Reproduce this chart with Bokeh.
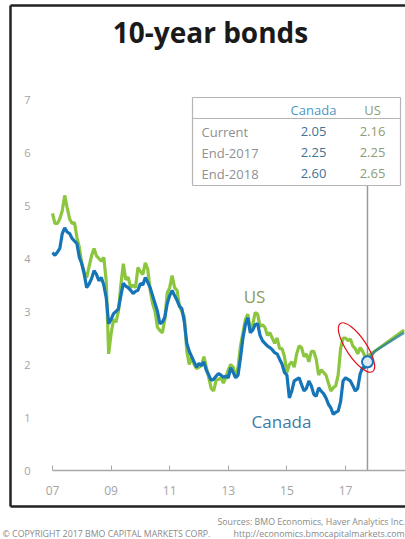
import numpy as np
from bokeh.plotting import figure
from bokeh.models import FixedTicker, Label, Range1d, ColumnDataSource
from bokeh.embed import file_html
from bokeh.resources import INLINE

# ---------------- data ----------------
# monthly readings, Jan 2007 .. Sep 2017, plus current reading
canada = [
    4.11, 4.06, 4.12, 4.19, 4.47, 4.58, 4.50, 4.47, 4.38, 4.33, 4.28, 4.02,   # 2007
    3.90, 3.70, 3.45, 3.52, 3.62, 3.77, 3.70, 3.58, 3.64, 3.50, 3.26, 2.77,   # 2008
    2.85, 2.96, 3.00, 3.05, 3.30, 3.53, 3.48, 3.45, 3.40, 3.34, 3.38, 3.40,   # 2009
    3.53, 3.50, 3.64, 3.55, 3.45, 3.30, 3.15, 3.00, 2.77, 2.80, 2.89, 3.15,   # 2010
    3.30, 3.40, 3.30, 3.21, 3.10, 3.05, 2.80, 2.40, 2.25, 2.15, 2.05, 1.95,   # 2011
    2.02, 1.98, 2.05, 1.89, 1.80, 1.70, 1.72, 1.78, 1.83, 1.80, 1.76, 1.78,   # 2012
    1.75, 1.94, 1.85, 1.75, 1.80, 2.13, 2.50, 2.75, 2.88, 2.60, 2.65, 2.75,   # 2013
    2.77, 2.55, 2.45, 2.40, 2.35, 2.32, 2.28, 2.22, 2.20, 2.10, 2.01, 1.85,   # 2014
    1.80, 1.37, 1.50, 1.69, 1.72, 1.75, 1.62, 1.50, 1.55, 1.69, 1.60, 1.44,   # 2015
    1.40, 1.56, 1.50, 1.45, 1.37, 1.25, 1.18, 1.06, 1.10, 1.12, 1.30, 1.69,   # 2016
    1.75, 1.72, 1.69, 1.60, 1.50, 1.55, 1.82, 1.94, 1.94,                     # 2017
]
us = [
    4.85, 4.66, 4.66, 4.75, 4.90, 5.19, 4.96, 4.75, 4.66, 4.68, 4.40, 4.21,   # 2007
    3.90, 3.75, 3.64, 3.85, 4.05, 4.19, 4.05, 4.00, 3.95, 4.02, 3.58, 2.20,   # 2008
    2.58, 2.85, 2.80, 3.00, 3.50, 3.90, 3.60, 3.65, 3.45, 3.50, 3.45, 3.83,   # 2009
    3.75, 3.70, 3.92, 3.80, 3.40, 3.15, 3.00, 2.70, 2.64, 2.60, 2.85, 3.35,   # 2010
    3.45, 3.68, 3.45, 3.40, 3.10, 3.00, 2.90, 2.25, 2.00, 2.15, 2.00, 1.92,   # 2011
    1.95, 1.98, 2.15, 1.95, 1.75, 1.55, 1.50, 1.70, 1.72, 1.75, 1.65, 1.75,   # 2012
    1.90, 2.00, 1.95, 1.75, 1.95, 2.35, 2.60, 2.85, 2.95, 2.65, 2.75, 2.98,   # 2013
    2.95, 2.72, 2.75, 2.70, 2.55, 2.60, 2.50, 2.40, 2.50, 2.30, 2.30, 2.15,   # 2014
    1.85, 2.00, 2.05, 1.95, 2.20, 2.35, 2.32, 2.15, 2.20, 2.05, 2.25, 2.25,   # 2015
    2.10, 1.80, 1.90, 1.85, 1.80, 1.65, 1.50, 1.56, 1.60, 1.80, 2.30, 2.50,   # 2016
    2.50, 2.45, 2.48, 2.35, 2.30, 2.20, 2.32, 2.25, 2.15,                     # 2017
]
current_date = 2017.75
table_rows = ["Current", "End-2017", "End-2018"]
canada_table = [2.05, 2.25, 2.60]
us_table = [2.16, 2.25, 2.65]
forecast_dates = [2017.75, 2018.0, 2019.0]
year_ticks = [2007, 2009, 2011, 2013, 2015, 2017]
year_labels = ["07", "09", "11", "13", "15", "17"]
y_ticks = [0, 1, 2, 3, 4, 5, 6, 7]

dates = [2007 + i / 12 for i in range(len(canada))] + [current_date]
canada_hist = canada + [canada_table[0]]
us_hist = us + [us_table[0]]

# ---------------- layout constants (pixels) ----------------
W, H = 405, 539
PX_YR, PX_U = 29.3, 53.0
X0_PX, Y0_PX = 52, 470          # pixel of 2007 and of value 0
x_start = 2007 - X0_PX / PX_YR
x_end = 2007 + (W - X0_PX) / PX_YR
y_start = -(H - Y0_PX) / PX_U
y_end = Y0_PX / PX_U

def dx(px):
    return x_start + px / PX_YR

def dy(py):
    return (Y0_PX - py) / PX_U

BLUE = "#1674b8"
GREEN = "#8cc63f"
FONT = "Open Sans"

p = figure(width=W, height=H, output_backend="svg", toolbar_location=None,
           x_range=Range1d(x_start, x_end), y_range=Range1d(y_start, y_end),
           min_border=0, min_border_left=0, min_border_right=0,
           min_border_top=0, min_border_bottom=0)
p.outline_line_color = None
p.grid.visible = False
p.background_fill_color = "white"
p.border_fill_color = "white"

# axes (drawn at fixed data locations inside the frame)
xa = p.xaxis[0]
xa.fixed_location = 0
xa.ticker = FixedTicker(ticks=year_ticks)
xa.major_label_overrides = {t: l for t, l in zip(year_ticks, year_labels)}
xa.bounds = (2007, x_end)
xa.axis_line_color = "#a8a8a8"
xa.axis_line_width = 1.5
xa.major_tick_in = 5
xa.major_tick_out = 0
xa.major_tick_line_color = "#a8a8a8"
xa.minor_tick_line_color = None
xa.major_label_text_color = "#a3a3a3"
xa.major_label_text_font = FONT
xa.major_label_text_font_size = "12px"
xa.major_label_standoff = 15

ya = p.yaxis[0]
ya.fixed_location = dx(40)
ya.ticker = FixedTicker(ticks=y_ticks)
ya.axis_line_color = None
ya.major_tick_line_color = None
ya.minor_tick_line_color = None
ya.major_label_text_color = "#a3a3a3"
ya.major_label_text_font = FONT
ya.major_label_text_font_size = "11px"
ya.major_label_standoff = 4

# frame border (left, top, bottom edges; right edge is cut off)
p.segment(x0=[dx(10), dx(10), dx(10)], y0=[dy(5), dy(5), dy(506)],
          x1=[dx(10), dx(W + 20), dx(W + 20)], y1=[dy(506), dy(5), dy(506)],
          line_color="#222222", line_width=2.5)

# series
src = ColumnDataSource(dict(x=dates, can=canada_hist, us=us_hist))
fsrc = ColumnDataSource(dict(x=forecast_dates, can=canada_table, us=us_table))
p.line("x", "us", source=src, line_color=GREEN, line_width=3.2)
p.line("x", "can", source=src, line_color=BLUE, line_width=3.2)
p.line("x", "us", source=fsrc, line_color=GREEN, line_width=3.2)
p.line("x", "can", source=fsrc, line_color="#2a7f9a", line_width=2.6, alpha=0.8)

# current marker line
p.segment(x0=[current_date], y0=[0], x1=[current_date], y1=[dy(185)],
          line_color="#9a9a9a", line_width=1.5)
p.scatter(x=[current_date], y=[canada_table[0]], size=11, fill_color="#dce9f3",
          line_color=BLUE, line_width=2)
p.ellipse(x=[dx(356)], y=[dy(347)], width=58, height=20, angle=-0.98,
          width_units="screen", height_units="screen", fill_color=None,
          line_color="#e0101a", line_width=1.2)

# table
tl, tr, tt, th, tb = 192, 400, 97, 118, 185
p.segment(x0=[dx(tl), dx(tl), dx(tl), dx(tl), dx(tr)],
          y0=[dy(tt), dy(th), dy(tb), dy(tt), dy(tt)],
          x1=[dx(tr), dx(tr), dx(tr), dx(tl), dx(tr)],
          y1=[dy(tt), dy(th), dy(tb), dy(tb), dy(tb)],
          line_color="#b5b5b5", line_width=1.2)

def lab(px, py, text, color, size, align="center", bold=False):
    p.add_layout(Label(x=dx(px), y=dy(py), text=text, text_color=color,
                       text_font=FONT, text_font_size=f"{size}px",
                       text_align=align, text_baseline="middle",
                       text_font_style="bold" if bold else "normal"))

lab(313, 109, "Canada", "#4b97c8", 13)
lab(372, 109, "US", "#8e9c74", 13)
for i, (r, c, u) in enumerate(zip(table_rows, canada_table, us_table)):
    yy = [131, 152, 173][i]
    lab(201, yy, r, "#8f8f8f", 13, align="left")
    lab(313, yy, f"{c:.2f}", "#3f7396", 13)
    lab(372, yy, f"{u:.2f}", "#8e9c74", 13)

lab(210, 31, "10-year bonds", "#1a1a1a", 28, bold=True)
lab(254, 296, "US", "#8c9a5c", 17)
lab(281, 421, "Canada", "#3d7aa6", 17)

# footer
def foot(px, py, text):
    lab(px, py, text, "#8a8a8a", 8.8, align="left")

foot(217, 521, "Sources: BMO Economics, Haver Analytics Inc.")
foot(2, 533, "\u00a9 COPYRIGHT 2017 BMO CAPITAL MARKETS CORP.")
foot(233, 533, "http://economics.bmocapitalmarkets.com")

open("out.html", "w").write(file_html(p, INLINE))
